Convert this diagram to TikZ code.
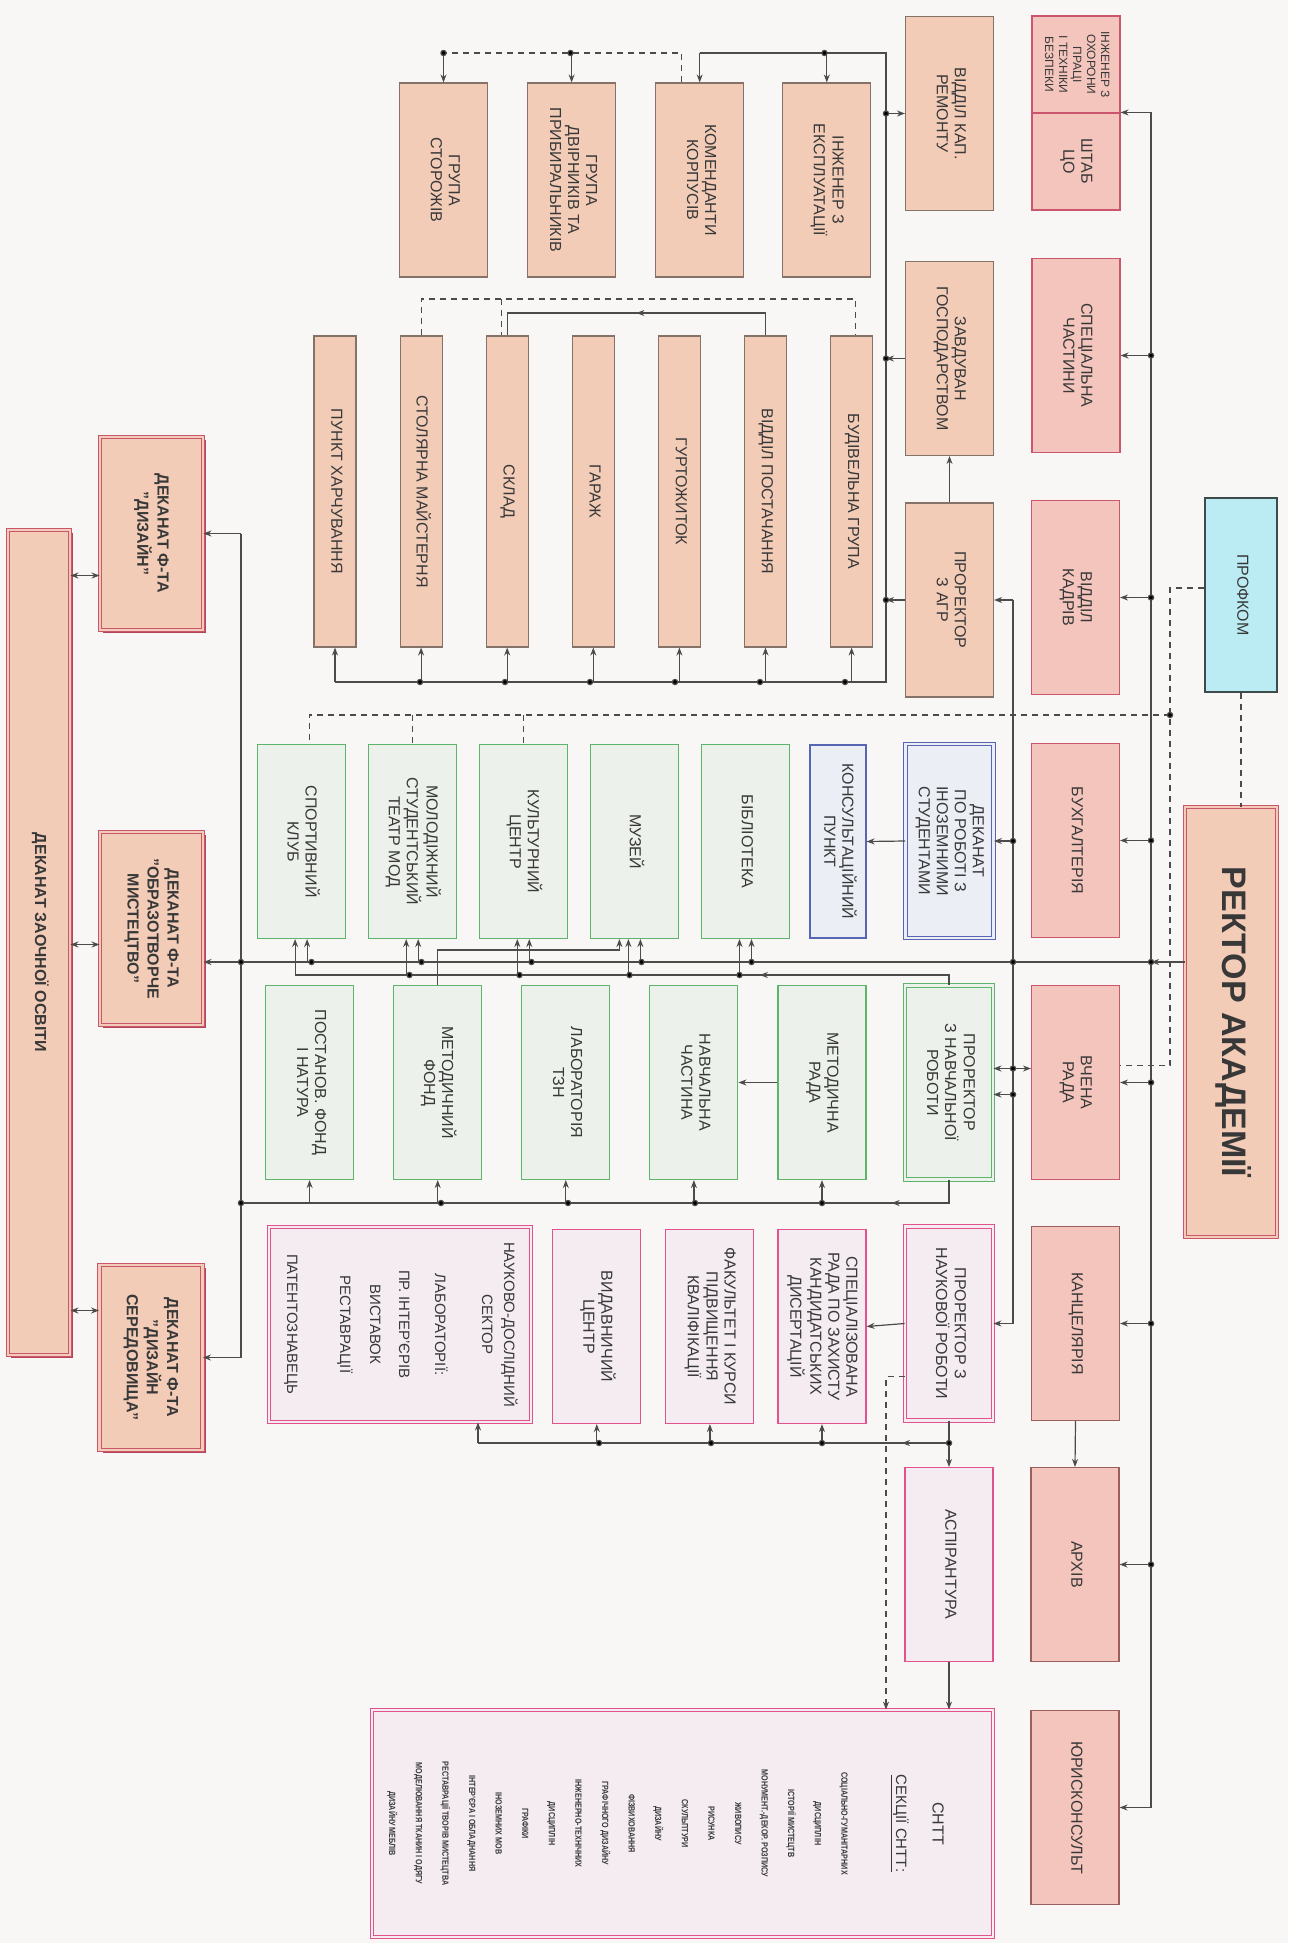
\documentclass[tikz,border=0pt]{standalone}
\usepackage{fontspec}
\setmainfont{Liberation Sans}
\newfontfamily\narrowsans[FakeStretch=0.8]{Liberation Sans}
\usetikzlibrary{positioning,arrows.meta,shadows,decorations.markings}

\definecolor{peach}{HTML}{F3CCB8}
\definecolor{peachline}{HTML}{85736A}
\definecolor{rosefill}{HTML}{F3C5BC}
\definecolor{roseline}{HTML}{C9566C}
\definecolor{brownline}{HTML}{9C5F5F}
\definecolor{greenline}{HTML}{5DB46B}
\definecolor{greenfill}{HTML}{EDF1EB}
\definecolor{blueline}{HTML}{5865B2}
\definecolor{bluefill}{HTML}{ECEEF6}
\definecolor{pinkline}{HTML}{E2528C}
\definecolor{pinkfill}{HTML}{F4ECF0}
\definecolor{cyanfill}{HTML}{BCECF3}
\definecolor{cyanline}{HTML}{3D4B4B}
\definecolor{wire}{HTML}{4B4B4B}
\definecolor{ink}{HTML}{383838}
\definecolor{deanshadow}{HTML}{B5455A}
\definecolor{paper}{HTML}{F8F7F5}

% text set from top to bottom
\newcommand{\vt}[1]{\rotatebox{-90}{\begin{tabular}{@{}c@{}}#1\end{tabular}}}

\tikzset{
  box/.style={draw, line width=1.1pt, inner sep=0pt, text=ink,
    font=\fontsize{16}{18}\selectfont},
  agr/.style={box, draw=peachline, fill=peach},
  adm/.style={box, draw=roseline, fill=rosefill},
  admb/.style={box, draw=brownline, fill=rosefill},
  grn/.style={box, draw=greenline, fill=greenfill},
  blu/.style={box, draw=blueline, fill=bluefill},
  pnk/.style={box, draw=pinkline, fill=pinkfill},
  twin/.style={double=#1, double distance=2.5pt, line width=0.9pt},
  dean/.style={box, draw=roseline, fill=peach, twin=peach,
    drop shadow={shadow xshift=3pt, shadow yshift=-3pt, fill=deanshadow, opacity=1},
    font=\bfseries\fontsize{16}{20}\selectfont},
  tall/.style={minimum width=88pt, minimum height=194pt},
  slim/.style={minimum width=42pt, minimum height=311pt},
  wire/.style={draw=wire, line width=1.2pt},
  arr/.style={wire, -{Stealth[length=8pt,width=6pt]}},
  darr/.style={wire, {Stealth[length=8pt,width=6pt]}-{Stealth[length=8pt,width=6pt]}},
  dline/.style={wire, dash pattern=on 6pt off 5pt},
  midarr/.style={decoration={markings, mark=at position #1 with {\arrow{Stealth[length=8pt,width=6pt]}}}, postaction={decorate}},
}

\begin{document}
\begin{tikzpicture}[x=1pt, y=-1pt, node distance=43pt]
\useasboundingbox (0,0) rectangle (1288,1943);
\fill[paper] (0,0) rectangle (1288,1943);

% economic part
\node[agr, tall] (storozh) at (443.5,180) {\vt{ГРУПА\\СТОРОЖІВ}};
\node[agr, tall, right=39pt of storozh] (dvirn) {\vt{ГРУПА\\ДВІРНИКІВ ТА\\ПРИБИРАЛЬНИКІВ}};
\node[agr, tall, right=39pt of dvirn] (koment) {\vt{КОМЕНДАНТИ\\КОРПУСІВ}};
\node[agr, tall, right=38pt of koment] (inzhexpl) {\vt{ІНЖЕНЕР З\\ЕКСПЛУАТАЦІЇ}};
\node[agr, slim] (harch) at (335,491.5) {\vt{ПУНКТ ХАРЧУВАННЯ}};
\node[agr, slim, right=of harch] (stolyar) {\vt{СТОЛЯРНА МАЙСТЕРНЯ}};
\node[agr, slim, right=of stolyar] (sklad) {\vt{СКЛАД}};
\node[agr, slim, right=of sklad] (garazh) {\vt{ГАРАЖ}};
\node[agr, slim, right=of garazh] (gurt) {\vt{ГУРТОЖИТОК}};
\node[agr, slim, right=of gurt] (postach) {\vt{ВІДДІЛ ПОСТАЧАННЯ}};
\node[agr, slim, right=of postach] (budiv) {\vt{БУДІВЕЛЬНА ГРУПА}};
\node[agr, tall] (kapremont) at (949.5,113.5) {\vt{ВІДДІЛ КАП.\\РЕМОНТУ}};
\node[agr, tall] (zavgosp) at (949.5,358.5) {\vt{ЗАВДУВАН\\ГОСПОДАРСТВОМ}};
\node[agr, tall] (prorAGR) at (949.5,600) {\vt{ПРОРЕКТОР\\З АГР}};

% services of the rector
\node[adm, minimum width=88pt, minimum height=97pt, font=\fontsize{12}{14}\selectfont] (inzhohor) at (1076,64.5) {\vt{ІНЖЕНЕР З\\ОХОРОНИ\\ПРАЦІ\\І ТЕХНІКИ\\БЕЗПЕКИ}};
\node[adm, minimum width=88pt, minimum height=97pt] (shtab) at (1076,161.5) {\vt{ШТАБ\\ЦО}};
\node[adm, tall] (specch) at (1076,355.5) {\vt{СПЕЦІАЛЬНА\\ЧАСТИНИ}};
\node[adm, tall] (kadry) at (1075.5,597.5) {\vt{ВІДДІЛ\\КАДРІВ}};
\node[adm, tall] (buh) at (1075.5,840.5) {\vt{БУХГАЛТЕРІЯ}};
\node[adm, tall] (vchena) at (1075.5,1082.5) {\vt{ВЧЕНА\\РАДА}};
\node[admb, tall] (kanc) at (1075.5,1323.5) {\vt{КАНЦЕЛЯРІЯ}};
\node[admb, tall] (arhiv) at (1075,1564.5) {\vt{АРХІВ}};
\node[admb, tall] (yurist) at (1075,1807.5) {\vt{ЮРИСКОНСУЛЬТ}};
\node[box, draw=cyanline, fill=cyanfill, minimum width=72pt, minimum height=194pt] (profkom) at (1241,595) {\vt{ПРОФКОМ}};
\node[box, draw=roseline, fill=peach, twin=peach, minimum width=92pt, minimum height=430pt,
  font=\bfseries\fontsize{34}{40}\selectfont] (rector) at (1231,1022) {\vt{РЕКТОР АКАДЕМІЇ}};

% prorectors
\node[blu, twin=bluefill, tall] (dekinoz) at (949.5,841) {\vt{ДЕКАНАТ\\ПО РОБОТІ З\\ІНОЗЕМНИМИ\\СТУДЕНТАМИ}};
\node[blu, minimum width=56pt, minimum height=193pt] (konsult) at (838,841.5) {\vt{КОНСУЛЬТАЦІЙНИЙ\\ПУНКТ}};
\node[grn, twin=greenfill, tall] (prornavch) at (949,1082.5) {\vt{ПРОРЕКТОР\\З НАВЧАЛЬНОЇ\\РОБОТИ}};
\node[pnk, twin=pinkfill, tall] (prornauk) at (949,1323.5) {\vt{ПРОРЕКТОР З\\НАУКОВОЇ РОБОТИ}};
\node[pnk, tall] (aspir) at (949,1564.5) {\vt{АСПІРАНТУРА}};

% educational part
\node[grn, tall] (biblio) at (745.5,841.5) {\vt{БІБЛІОТЕКА}};
\node[grn, tall, left=22pt of biblio] (muzei) {\vt{МУЗЕЙ}};
\node[grn, tall, left=22pt of muzei] (kultc) {\vt{КУЛЬТУРНИЙ\\ЦЕНТР}};
\node[grn, tall, left=22pt of kultc] (teatr) {\vt{МОЛОДІЖНИЙ\\СТУДЕНТСЬКИЙ\\ТЕАТР МОД}};
\node[grn, tall, left=22pt of teatr] (sport) {\vt{СПОРТИВНИЙ\\КЛУБ}};
\node[grn, tall] (metrada) at (822,1082.5) {\vt{МЕТОДИЧНА\\РАДА}};
\node[grn, tall, left=39pt of metrada] (navchch) {\vt{НАВЧАЛЬНА\\ЧАСТИНА}};
\node[grn, tall, left=39pt of navchch] (labtzn) {\vt{ЛАБОРАТОРІЯ\\ТЗН}};
\node[grn, tall, left=39pt of labtzn] (metfond) {\vt{МЕТОДИЧНИЙ\\ФОНД}};
\node[grn, tall, left=39pt of metfond] (postfond) {\vt{ПОСТАНОВ. ФОНД\\І НАТУРА}};

% scientific part
\node[pnk, tall] (specrada) at (822,1326.5) {\vt{СПЕЦІАЛІЗОВАНА\\РАДА ПО ЗАХИСТУ\\КАНДИДАТСЬКИХ\\ДИСЕРТАЦІЙ}};
\node[pnk, tall, left=23pt of specrada] (fakult) {\vt{ФАКУЛЬТЕТ І КУРСИ\\ПІДВИЩЕННЯ\\КВАЛІФІКАЦІЇ}};
\node[pnk, tall, left=24pt of fakult] (vydav) {\vt{ВИДАВНИЧИЙ\\ЦЕНТР}};
\node[pnk, twin=pinkfill, minimum width=262pt, minimum height=195pt, font=\fontsize{15}{22}\selectfont] (naukdosl) at (400,1324.5)
  {\vt{НАУКОВО-ДОСЛІДНИЙ\\СЕКТОР\\[25pt]ЛАБОРАТОРІЇ:\\[14pt]ПР. ІНТЕР’ЄРІВ\\[7pt]ВИСТАВОК\\[8pt]РЕСТАВРАЦІЇ\\[31pt]ПАТЕНТОЗНАВЕЦЬ}};
\node[pnk, twin=pinkfill, minimum width=621pt, minimum height=227pt] (sntt) at (682.5,1823.5) {};
\node[anchor=east, inner sep=0pt, text=ink, font=\narrowsans\bfseries\fontsize{9}{26.6}\selectfont] (snttlist) at ([xshift=-42pt]sntt.east)
  {\vt{{\rmfamily\mdseries\fontsize{16}{18}\selectfont СНТТ}\\[10pt]
  {\rmfamily\mdseries\fontsize{15}{18}\selectfont\underline{СЕКЦІЇ СНТТ:}}\\[28pt]
  СОЦІАЛЬНО-ГУМАНІТАРНИХ\\ДИСЦИПЛІН\\ІСТОРІЇ МИСТЕЦТВ\\МОНУМЕНТ.-ДЕКОР. РОЗПИСУ\\ЖИВОПИСУ\\
  РИСУНКА\\СКУЛЬПТУРИ\\ДИЗАЙНУ\\ФІЗВИХОВАННЯ\\ГРАФІЧНОГО ДИЗАЙНУ\\ІНЖЕНЕРНО-ТЕХНІЧНИХ\\
  ДИСЦИПЛІН\\ГРАФІКИ\\ІНОЗЕМНИХ МОВ\\ІНТЕР’ЄРА І ОБЛАДНАННЯ\\РЕСТАВРАЦІЇ ТВОРІВ МИСТЕЦТВА\\
  МОДЕЛЮВАННЯ ТКАНИН І ОДЯГУ\\ДИЗАЙНУ МЕБЛІВ}};

% deans
\node[dean, minimum width=62pt, minimum height=825pt] (zaochna) at (39,942.5) {\vt{ДЕКАНАТ ЗАОЧНОЇ ОСВІТИ}};
\node[dean, minimum width=103pt, minimum height=193pt] (dekdiz) at (151.5,533.5) {\vt{ДЕКАНАТ Ф-ТА\\"ДИЗАЙН"}};
\node[dean, minimum width=103pt, minimum height=193pt] (dekobr) at (151.5,928.5) {\vt{ДЕКАНАТ Ф-ТА\\"ОБРАЗОТВОРЧЕ\\МИСТЕЦТВО"}};
\node[dean, minimum width=103pt, minimum height=185pt] (dekser) at (151,1357.5) {\vt{ДЕКАНАТ Ф-ТА\\"ДИЗАЙН\\СЕРЕДОВИЩА"}};

% bus lines
\coordinate (topbus) at (0,53);
\coordinate (agrbus) at (0,682);
\coordinate (agrdash) at (0,299);
\coordinate (supply) at (0,313);
\coordinate (agrV) at (886,0);
\coordinate (admV) at (1151,0);
\coordinate (prorV) at (1013,0);
\coordinate (dashV) at (1170,0);
\coordinate (deanV) at (241,0);
\coordinate (sciV) at (886,0);
\coordinate (busM) at (0,962);
\coordinate (culline) at (0,975);
\coordinate (muzlink) at (0,950);
\coordinate (pkbus) at (0,715);
\coordinate (navbus) at (0,1203);
\coordinate (pinkbus) at (0,1443);

% economic connectors
\draw[wire] (koment.north |- topbus) -| (agrV |- agrbus) -- (harch.south |- agrbus);
\foreach \n in {koment,inzhexpl} \draw[arr] (\n.north |- topbus) -- (\n.north);
\foreach \n in {harch,stolyar,sklad,garazh,gurt,postach,budiv} \draw[arr] (\n.south |- agrbus) -- (\n.south);
\draw[arr] (kapremont.west -| agrV) -- (kapremont.west);
\draw[arr] (zavgosp.west) -- (zavgosp.west -| agrV);
\draw[arr] (prorAGR.west) -- (prorAGR.west -| agrV);
\draw[arr] (prorAGR.north) -- (zavgosp.south);
\draw[dline] ([xshift=-18pt]koment.north) -- ([xshift=-18pt]koment.north |- topbus) -- (storozh.north |- topbus);
\foreach \n in {storozh,dvirn} \draw[arr] (\n.north |- topbus) -- (\n.north);
\draw[dline] (stolyar.north) -- (stolyar.north |- agrdash) -- ([xshift=4pt]budiv.north |- agrdash) -- ([xshift=4pt]budiv.north);
\draw[dline] ([xshift=-6pt]sklad.north |- agrdash) -- ([xshift=-6pt]sklad.north);
\draw[wire, midarr=0.5] (postach.north) -- (postach.north |- supply) -- (sklad.north |- supply) -- (sklad.north);

% rector connectors
\draw[wire] (shtab.north east -| admV) -- (yurist.east -| admV);
\draw[arr] (shtab.north east -| admV) -- (shtab.north east);
\foreach \n in {specch,kadry,buh,vchena,kanc,arhiv,yurist} \draw[arr] (\n.east -| admV) -- (\n.east);
\draw[arr] (kanc.south) -- (arhiv.north);
\draw[arr] (rector.west |- busM) -- (admV |- busM);
\draw[arr] (admV |- busM) -- (dekobr.east |- busM);
\draw[wire] (prorAGR.east -| prorV) -- (prornauk.east -| prorV);
\draw[arr] (prorAGR.east -| prorV) -- (prorAGR.east);
\draw[arr] (dekinoz.east -| prorV) -- (dekinoz.east);
\draw[arr] ([yshift=-12pt]prornavch.east -| prorV) -- ([yshift=-12pt]prornavch.east);
\draw[arr] (prornauk.east -| prorV) -- (prornauk.east);
\draw[darr] ([yshift=14pt]prornavch.east) -- ([yshift=14pt]prornavch.east -| vchena.west);
\draw[arr] (dekinoz.west) -- (konsult.east);

% trade union
\draw[dline] (profkom.south) -- (profkom.south |- rector.north);
\draw[dline] ([yshift=7pt]profkom.west) -| ([yshift=17pt]vchena.east -| dashV) -- ([yshift=17pt]vchena.east);
\draw[dline] (dashV |- pkbus) -- ([xshift=8pt]sport.north |- pkbus) -- ([xshift=8pt]sport.north);
\draw[dline] (teatr.north |- pkbus) -- (teatr.north);
\draw[dline] (kultc.north |- pkbus) -- (kultc.north);

% educational connectors
\draw[wire, midarr=0.3] (prornavch.north) -- (prornavch.north |- culline) -- ([xshift=-6pt]sport.south |- culline);
\foreach \n in {sport,teatr,kultc,muzei,biblio} {
  \draw[arr] ([xshift=-6pt]\n.south |- culline) -- ([xshift=-6pt]\n.south);
  \draw[arr] ([xshift=6pt]\n.south |- busM) -- ([xshift=6pt]\n.south);
}
\draw[arr] (metfond.north) -- (metfond.north |- muzlink) -- ([xshift=-15pt]muzei.south |- muzlink) -- ([xshift=-15pt]muzei.south);
\draw[arr] (metrada.west) -- (navchch.east);
\draw[wire, midarr=0.11] (prornavch.south) -- (prornavch.south |- navbus) -- (deanV |- navbus);
\foreach \n in {postfond,metfond,labtzn,navchch,metrada} \draw[arr] (\n.south |- navbus) -- (\n.south);
\draw[wire] (dekdiz.east -| deanV) -- (dekser.east -| deanV);
\draw[arr] (dekdiz.east -| deanV) -- (dekdiz.east);
\draw[arr] (dekser.east -| deanV) -- (dekser.east);
\draw[darr] ([yshift=-42pt]dekdiz.west) -- ([yshift=-42pt]dekdiz.west -| zaochna.east);
\draw[darr] ([yshift=-16pt]dekobr.west) -- ([yshift=-16pt]dekobr.west -| zaochna.east);
\draw[darr] ([yshift=47pt]dekser.west) -- ([yshift=47pt]dekser.west -| zaochna.east);

% scientific connectors
\draw[arr] (prornauk.west) -- (specrada.east);
\draw[arr] (prornauk.south) -- (aspir.north);
\draw[wire, midarr=0.1] (prornauk.south |- pinkbus) -- ([xshift=78pt]naukdosl.south |- pinkbus);
\foreach \n in {specrada,fakult,vydav} \draw[arr] (\n.south |- pinkbus) -- (\n.south);
\draw[arr] ([xshift=78pt]naukdosl.south |- pinkbus) -- ([xshift=78pt]naukdosl.south);
\draw[arr] (aspir.south) -- (aspir.south |- sntt.north);
\draw[dline, -{Stealth[length=8pt,width=6pt]}] ([yshift=-53pt]prornauk.west) -| (sciV |- sntt.north);

% junction dots
\foreach \p in {(443.5,53),(570.5,53),(824.5,53),(886,113.5),(886,358.5),(886,600),
  (420,682),(505,682),(590,682),(675,682),(760,682),(845,682),
  (1151,355.5),(1151,597.5),(1151,840.5),(1151,962),(1151,1082.5),(1151,1323.5),(1151,1564.5),
  (1013,841),(1013,962),(1013,1068.5),(1013,1094.5),(1170,715),
  (241,962),(311.5,962),(421.5,962),(531.5,962),(641.5,962),(751.5,962),
  (409.5,975),(519.5,975),(629.5,975),(739.5,975),
  (241,1203),(441,1203),(568,1203),(695,1203),(822,1203),
  (949,1443),(822,1443),(711,1443),(599,1443)}
  \fill[wire] \p circle (2.6pt);
\end{tikzpicture}
\end{document}
